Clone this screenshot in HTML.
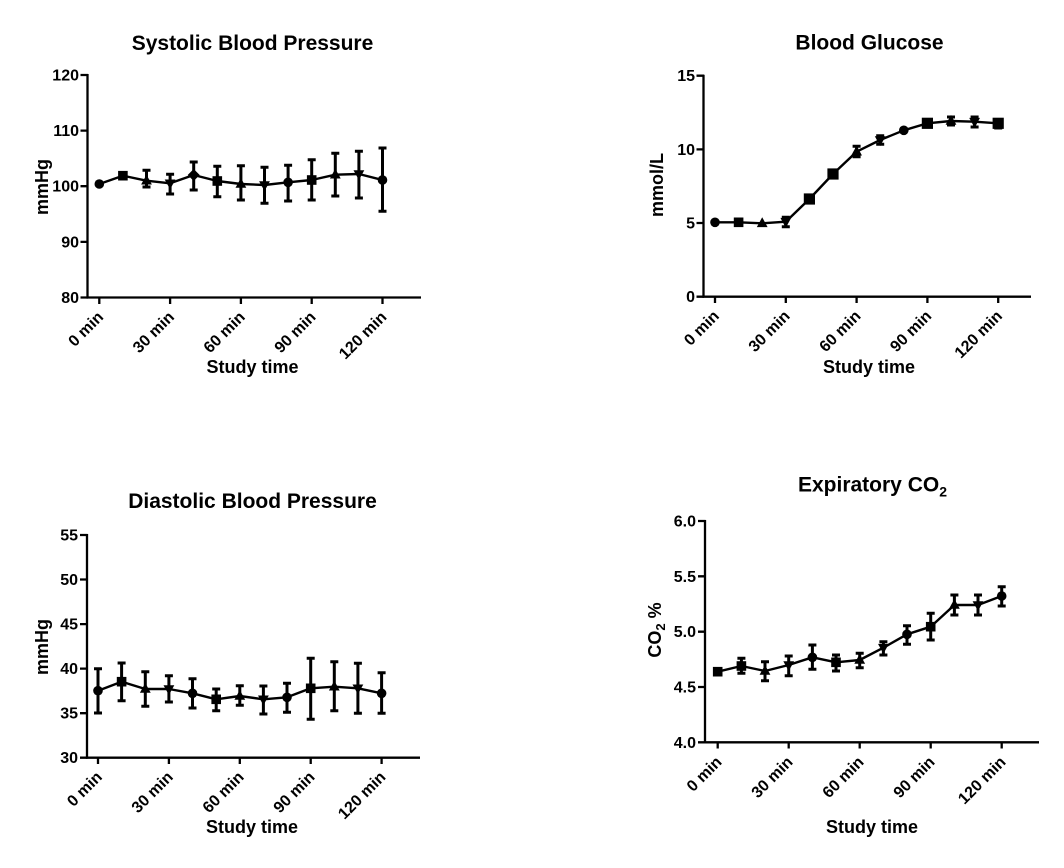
<!DOCTYPE html>
<html><head><meta charset="utf-8">
<style>
html,body{margin:0;padding:0;background:#fff;}
svg{display:block;}
text{font-family:"Liberation Sans",Arial,sans-serif;font-weight:bold;fill:#000;}
.t{font-size:21px;}
.a{font-size:18px;}
.k{font-size:16px;}
.ax{stroke:#000;stroke-width:2.3;fill:none;}
.ln{fill:none;stroke:#000;stroke-width:2.4;stroke-linejoin:round;}
.eb{fill:none;stroke:#000;stroke-width:3;}
</style></head>
<body>
<svg width="1064" height="868" viewBox="0 0 1064 868" xmlns="http://www.w3.org/2000/svg">
<defs>
<circle id="c" r="4.8"/>
<rect id="s" x="-4.8" y="-4.8" width="9.6" height="9.6"/>
<rect id="S" x="-5.6" y="-5.6" width="11.2" height="11.2"/>
<polygon id="u" points="0,-6 5.4,3.8 -5.4,3.8"/>
<polygon id="d" points="0,6 5.4,-3.8 -5.4,-3.8"/>
<polygon id="m" points="0,-6 6,0 0,6 -6,0"/>
</defs>
<rect width="1064" height="868" fill="#fff"/>

<!-- ===== Panel 1: Systolic ===== -->
<text class="t" x="252.5" y="50" text-anchor="middle">Systolic Blood Pressure</text>
<g class="ax">
<path d="M87.5 74V298.5M86.5 297.5H421"/>
<path d="M80.5 75H88M80.5 130.6H88M80.5 186.2H88M80.5 241.9H88M80.5 297.5H88"/>
<path d="M99.3 297.5V304M170.1 297.5V304M240.9 297.5V304M311.7 297.5V304M382.5 297.5V304"/>
</g>
<g class="k" text-anchor="end">
<text x="79" y="80.5">120</text><text x="79" y="136.1">110</text><text x="79" y="191.7">100</text><text x="79" y="247.4">90</text><text x="79" y="303">80</text>
<text transform="translate(104.3,318) rotate(-45)">0 min</text>
<text transform="translate(175.1,318) rotate(-45)">30 min</text>
<text transform="translate(245.9,318) rotate(-45)">60 min</text>
<text transform="translate(316.7,318) rotate(-45)">90 min</text>
<text transform="translate(387.5,318) rotate(-45)">120 min</text>
</g>
<text class="a" x="252.5" y="373" text-anchor="middle">Study time</text>
<text class="a" transform="translate(48,187) rotate(-90)" text-anchor="middle">mmHg</text>
<polyline class="ln" points="99.3,184 122.9,175.7 146.5,180.7 170.1,183.3 193.7,175 217.3,181 240.9,184 264.5,185 288.1,182.3 311.7,180 335.3,174.7 358.9,174 382.5,180"/>
<path class="eb" d="
M146.5 170.3V187M142.5 170.3h8M142.5 187h8
M170.1 174.3V194M166.1 174.3h8M166.1 194h8
M193.7 162V190M189.7 162h8M189.7 190h8
M217.3 166.3V196.7M213.3 166.3h8M213.3 196.7h8
M240.9 165.7V200M236.9 165.7h8M236.9 200h8
M264.5 167.3V203.3M260.5 167.3h8M260.5 203.3h8
M288.1 165.3V201M284.1 165.3h8M284.1 201h8
M311.7 159.7V200M307.7 159.7h8M307.7 200h8
M335.3 153.3V196M331.3 153.3h8M331.3 196h8
M358.9 151.3V198M354.9 151.3h8M354.9 198h8
M382.5 148V211.3M378.5 148h8M378.5 211.3h8"/>
<g fill="#000">
<use href="#c" x="99.3" y="184"/><use href="#s" x="122.9" y="175.7"/><use href="#u" x="146.5" y="180.7"/><use href="#d" x="170.1" y="183.3"/><use href="#m" x="193.7" y="175"/><use href="#s" x="217.3" y="181"/><use href="#u" x="240.9" y="184"/><use href="#d" x="264.5" y="185"/><use href="#c" x="288.1" y="182.3"/><use href="#s" x="311.7" y="180"/><use href="#u" x="335.3" y="174.7"/><use href="#d" x="358.9" y="174"/><use href="#c" x="382.5" y="180"/>
</g>

<!-- ===== Panel 2: Glucose ===== -->
<text class="t" x="869.5" y="49.5" text-anchor="middle">Blood Glucose</text>
<g class="ax">
<path d="M703.5 74.7V297.7M702.5 296.7H1031"/>
<path d="M696.5 75.7H704M696.5 149.4H704M696.5 223H704M696.5 296.7H704"/>
<path d="M715 296.7V303M785.8 296.7V303M856.6 296.7V303M927.4 296.7V303M998.2 296.7V303"/>
</g>
<g class="k" text-anchor="end">
<text x="695" y="81.2">15</text><text x="695" y="154.9">10</text><text x="695" y="228.5">5</text><text x="695" y="302.2">0</text>
<text transform="translate(720,317) rotate(-45)">0 min</text>
<text transform="translate(790.8,317) rotate(-45)">30 min</text>
<text transform="translate(861.6,317) rotate(-45)">60 min</text>
<text transform="translate(932.4,317) rotate(-45)">90 min</text>
<text transform="translate(1003.2,317) rotate(-45)">120 min</text>
</g>
<text class="a" x="869" y="373" text-anchor="middle">Study time</text>
<text class="a" transform="translate(663,185) rotate(-90)" text-anchor="middle">mmol/L</text>
<polyline class="ln" points="715,222.3 738.6,222.3 762.2,223.3 785.8,221.7 809.4,199 833,174 856.6,151.7 880.2,140 903.8,130.3 927.4,123.3 951,121 974.6,121.7 998.2,123.3"/>
<path class="eb" d="
M785.8 217.2V226.7M781.8 217.2h8M781.8 226.7h8
M856.6 146.3V156.7M852.6 146.3h8M852.6 156.7h8
M880.2 135.7V144.3M876.2 135.7h8M876.2 144.3h8
M927.4 120V126.5M923.4 120h8M923.4 126.5h8
M951 117V125M947 117h8M947 125h8
M974.6 117V127M970.6 117h8M970.6 127h8
M998.2 120V128M994.2 120h8M994.2 128h8"/>
<g fill="#000">
<use href="#c" x="715" y="222.3"/><use href="#s" x="738.6" y="222.3"/><use href="#u" x="762.2" y="223.3"/><use href="#d" x="785.8" y="221.7"/><use href="#S" x="809.4" y="199"/><use href="#S" x="833" y="174"/><use href="#u" x="856.6" y="151.7"/><use href="#d" x="880.2" y="140"/><use href="#c" x="903.8" y="130.3"/><use href="#S" x="927.4" y="123.3"/><use href="#u" x="951" y="121"/><use href="#d" x="974.6" y="121.7"/><use href="#S" x="998.2" y="123.3"/>
</g>

<!-- ===== Panel 3: Diastolic ===== -->
<text class="t" x="252.5" y="508" text-anchor="middle">Diastolic Blood Pressure</text>
<g class="ax">
<path d="M87 534V758.7M86 757.7H420"/>
<path d="M80 535H87.5M80 579.5H87.5M80 624.1H87.5M80 668.6H87.5M80 713.2H87.5M80 757.7H87.5"/>
<path d="M98 757.7V764M168.9 757.7V764M239.8 757.7V764M310.7 757.7V764M381.6 757.7V764"/>
</g>
<g class="k" text-anchor="end">
<text x="78" y="540.5">55</text><text x="78" y="585">50</text><text x="78" y="629.6">45</text><text x="78" y="674.1">40</text><text x="78" y="718.7">35</text><text x="78" y="763.2">30</text>
<text transform="translate(103,778) rotate(-45)">0 min</text>
<text transform="translate(173.9,778) rotate(-45)">30 min</text>
<text transform="translate(244.8,778) rotate(-45)">60 min</text>
<text transform="translate(315.7,778) rotate(-45)">90 min</text>
<text transform="translate(386.6,778) rotate(-45)">120 min</text>
</g>
<text class="a" x="252" y="833" text-anchor="middle">Study time</text>
<text class="a" transform="translate(48,647) rotate(-90)" text-anchor="middle">mmHg</text>
<polyline class="ln" points="98,690.7 121.6,681.7 145.3,689 168.9,689 192.5,693.3 216.2,699.3 239.8,696 263.4,699.3 287,697.3 310.7,688.3 334.3,686.7 357.9,688.3 381.6,693.3"/>
<path class="eb" d="
M98 668.7V713M94 668.7h8M94 713h8
M121.6 663V700.7M117.6 663h8M117.6 700.7h8
M145.3 671.7V706.3M141.3 671.7h8M141.3 706.3h8
M168.9 675.7V702M164.9 675.7h8M164.9 702h8
M192.5 678.7V708M188.5 678.7h8M188.5 708h8
M216.2 689V710.7M212.2 689h8M212.2 710.7h8
M239.8 685.7V705.3M235.8 685.7h8M235.8 705.3h8
M263.4 686V714M259.4 686h8M259.4 714h8
M287 683.3V712.3M283 683.3h8M283 712.3h8
M310.7 658.3V719.3M306.7 658.3h8M306.7 719.3h8
M334.3 661.7V710.7M330.3 661.7h8M330.3 710.7h8
M357.9 663.3V713.3M353.9 663.3h8M353.9 713.3h8
M381.6 672.7V713.3M377.6 672.7h8M377.6 713.3h8"/>
<g fill="#000">
<use href="#c" x="98" y="690.7"/><use href="#s" x="121.6" y="681.7"/><use href="#u" x="145.3" y="689"/><use href="#d" x="168.9" y="689"/><use href="#c" x="192.5" y="693.3"/><use href="#s" x="216.2" y="699.3"/><use href="#u" x="239.8" y="696"/><use href="#d" x="263.4" y="699.3"/><use href="#c" x="287" y="697.3"/><use href="#s" x="310.7" y="688.3"/><use href="#u" x="334.3" y="686.7"/><use href="#d" x="357.9" y="688.3"/><use href="#c" x="381.6" y="693.3"/>
</g>

<!-- ===== Panel 4: CO2 ===== -->
<text class="t" x="872.5" y="491.5" text-anchor="middle">Expiratory CO<tspan font-size="14" dy="5">2</tspan></text>
<g class="ax">
<path d="M705 520V743.3M704 742.3H1039"/>
<path d="M698 521H705.5M698 576.3H705.5M698 631.7H705.5M698 687H705.5M698 742.3H705.5"/>
<path d="M717.7 742.3V748.5M788.7 742.3V748.5M859.7 742.3V748.5M930.7 742.3V748.5M1001.7 742.3V748.5"/>
</g>
<g class="k" text-anchor="end">
<text x="696" y="526.5">6.0</text><text x="696" y="581.8">5.5</text><text x="696" y="637.2">5.0</text><text x="696" y="692.5">4.5</text><text x="696" y="747.8">4.0</text>
<text transform="translate(722.7,763) rotate(-45)">0 min</text>
<text transform="translate(793.7,763) rotate(-45)">30 min</text>
<text transform="translate(864.7,763) rotate(-45)">60 min</text>
<text transform="translate(935.7,763) rotate(-45)">90 min</text>
<text transform="translate(1006.7,763) rotate(-45)">120 min</text>
</g>
<text class="a" x="872" y="833" text-anchor="middle">Study time</text>
<text class="a" transform="translate(661,630) rotate(-90)" text-anchor="middle">CO<tspan font-size="13" dy="4">2</tspan><tspan dy="-4"> %</tspan></text>
<polyline class="ln" points="717.7,671.7 741.4,666 765,671 788.7,665 812.4,657.3 836,662.3 859.7,660 883.4,647.7 907,634.3 930.7,626.7 954.4,605 978,605 1001.7,596"/>
<path class="eb" d="
M741.4 658.3V673.3M737.4 658.3h8M737.4 673.3h8
M765 661.7V680.7M761 661.7h8M761 680.7h8
M788.7 656V675.7M784.7 656h8M784.7 675.7h8
M812.4 645V669.3M808.4 645h8M808.4 669.3h8
M836 655V671M832 655h8M832 671h8
M859.7 653.3V667.7M855.7 653.3h8M855.7 667.7h8
M883.4 641.7V655M879.4 641.7h8M879.4 655h8
M907 625.7V644.3M903 625.7h8M903 644.3h8
M930.7 613.3V640M926.7 613.3h8M926.7 640h8
M954.4 595V615M950.4 595h8M950.4 615h8
M978 595V615M974 595h8M974 615h8
M1001.7 586.7V606M997.7 586.7h8M997.7 606h8"/>
<g fill="#000">
<use href="#s" x="717.7" y="671.7"/><use href="#s" x="741.4" y="666"/><use href="#u" x="765" y="671"/><use href="#d" x="788.7" y="665"/><use href="#c" x="812.4" y="657.3"/><use href="#s" x="836" y="662.3"/><use href="#u" x="859.7" y="660"/><use href="#d" x="883.4" y="647.7"/><use href="#c" x="907" y="634.3"/><use href="#s" x="930.7" y="626.7"/><use href="#u" x="954.4" y="605"/><use href="#d" x="978" y="605"/><use href="#c" x="1001.7" y="596"/>
</g>
</svg>
</body></html>
